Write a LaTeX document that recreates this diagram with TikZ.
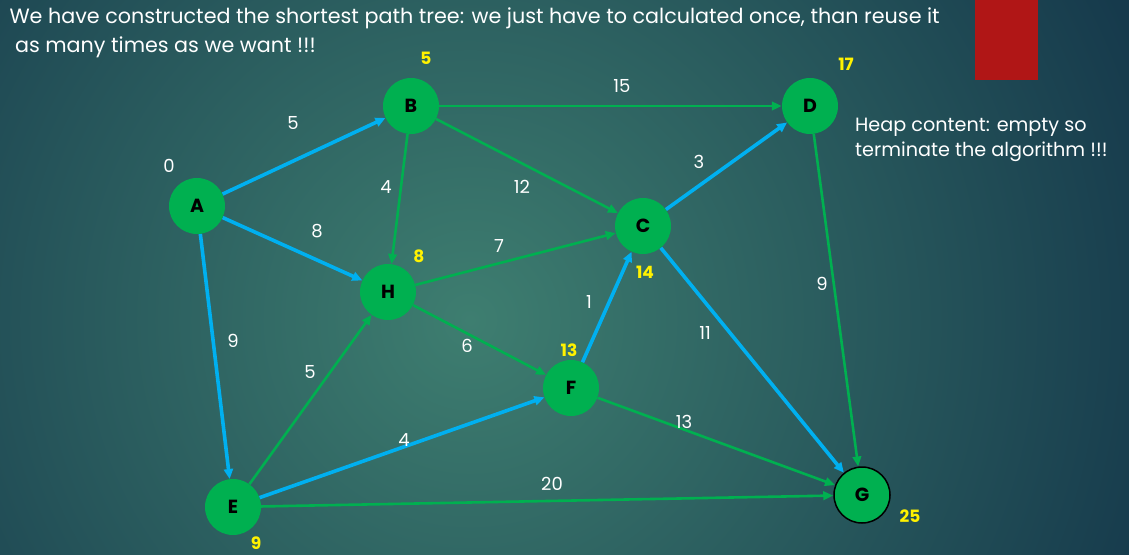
\documentclass[tikz,border=0pt]{standalone}
\usepackage{fontspec}
\setmainfont{Poppins}
\usetikzlibrary{arrows.meta}
\definecolor{bgcenter}{RGB}{62,126,112}
\definecolor{bgedge}{RGB}{22,58,76}
\definecolor{treeblue}{RGB}{0,176,240}
\definecolor{graphgreen}{RGB}{0,176,80}
\definecolor{slidered}{RGB}{176,22,22}
\begin{document}
\begin{tikzpicture}
        [x=1pt, y=-1pt,
         vertex/.style={circle, fill=graphgreen, minimum size=56pt, inner sep=0pt,
            font=\fontsize{19}{19}\selectfont\bfseries, text=black},
         tree/.style={color=treeblue, line width=3.6pt, -{Triangle[length=10pt, width=9pt]}},
         edge/.style={color=graphgreen, line width=2.6pt, -{Triangle[length=10pt, width=8.5pt]}},
         dist/.style={text=yellow, font=\fontsize{17}{17}\selectfont\bfseries},
         wt/.style={text=white, font=\fontsize{18}{18}\selectfont}]
        % background
        \useasboundingbox (0,0) rectangle (1129,554);
        \clip (0,0) rectangle (1129,554);
        \fill[bgedge] (0,0) rectangle (1129,554);
        \shade[inner color=bgcenter, outer color=bgedge]
            (470,320) circle (720);
        \fill[slidered] (975,0) rectangle (1038,80);
        % title
        \node[anchor=west, text=white, font=\fontsize{20.7}{20.7}\selectfont] (title1)
            at (6,18) {We have constructed the shortest path tree: we just have to calculated once, than reuse it};
        \node[anchor=west, text=white, font=\fontsize{20.7}{20.7}\selectfont] (title2)
            at (6,47) {\ as many times as we want !!!};
        \node[anchor=north west, text=white, align=left, inner sep=0pt,
              font=\fontsize{19.2}{25}\selectfont] (heap)
            at (855,118) {Heap content: empty so\\terminate the algorithm !!!};
        % vertices
        \node[vertex] (A) at (197,206) {A};
        \node[vertex] (B) at (411,106) {B};
        \node[vertex] (D) at (810,106) {D};
        \node[vertex] (C) at (643,226) {C};
        \node[vertex] (H) at (388,292) {H};
        \node[vertex] (F) at (571,388) {F};
        \node[vertex] (E) at (233,507) {E};
        \node[vertex, draw=black, line width=1.5pt] (G) at (862,495) {G};
        % graph edges
        \draw[edge] (B) -- (H);
        \draw[edge] (B) -- (D);
        \draw[edge] (B) -- (C);
        \draw[edge] (H) -- (C);
        \draw[edge] (H) -- (F);
        \draw[edge] (E) -- (H);
        \draw[edge] (E) -- (G);
        \draw[edge] (F) -- (G);
        \draw[edge] (D) -- (G);
        % shortest path tree
        \draw[tree] (A) -- (B);
        \draw[tree] (A) -- (H);
        \draw[tree] (A) -- (E);
        \draw[tree] (E) -- (F);
        \draw[tree] (F) -- (C);
        \draw[tree] (C) -- (D);
        \draw[tree] (C) -- (G);
        % weights
        \node[wt] (wAB) at (293,123) {5};
        \node[wt] (wAH) at (317,231) {8};
        \node[wt] (wAE) at (233,341) {9};
        \node[wt] (wBH) at (386,187) {4};
        \node[wt] (wBD) at (622,86) {15};
        \node[wt] (wBC) at (522,187) {12};
        \node[wt] (wHC) at (499,246) {7};
        \node[wt] (wHF) at (467,346) {6};
        \node[wt] (wEH) at (310,372) {5};
        \node[wt] (wEF) at (404,440) {4};
        \node[wt] (wEG) at (552,484) {20};
        \node[wt] (wFC) at (589,302) {1};
        \node[wt] (wCG) at (705,333) {11};
        \node[wt] (wFG) at (684,422) {13};
        \node[wt] (wCD) at (699,162) {3};
        \node[wt] (wDG) at (822,284) {9};
        % distances
        \node[wt] (dA) at (169,166) {0};
        \node[dist] (dB) at (426,58) {5};
        \node[dist] (dD) at (846,64) {17};
        \node[dist] (dH) at (419,256) {8};
        \node[dist] (dC) at (645,272) {14};
        \node[dist] (dF) at (569,350) {13};
        \node[dist] (dE) at (256,543) {9};
        \node[dist] (dG) at (910,516) {25};
\end{tikzpicture}
\end{document}
